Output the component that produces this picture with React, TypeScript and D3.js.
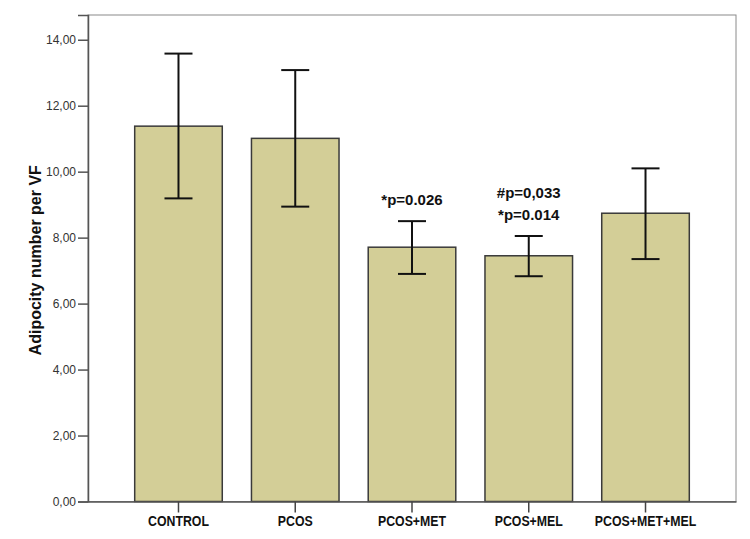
import React, { useEffect, useRef } from 'react';
import * as d3 from 'd3';

// groups and values
const groups = ['CONTROL', 'PCOS', 'PCOS+MET', 'PCOS+MEL', 'PCOS+MET+MEL'];
const means = [11.38, 11.01, 7.71, 7.45, 8.74];
const upper = [13.58, 13.08, 8.5, 8.05, 10.1];
const lower = [9.19, 8.94, 6.9, 6.83, 7.35];
const yTicks = [0, 2, 4, 6, 8, 10, 12, 14];
// significance notes above bars (group, lines)
const notes = [
  { group: 'PCOS+MET', lines: ['*p=0.026'] },
  { group: 'PCOS+MEL', lines: ['#p=0,033', '*p=0.014'] },
];

const W = 750;
const H = 539;

export default function App() {
  const ref = useRef<SVGSVGElement>(null);

  useEffect(() => {
    const svg = d3.select(ref.current);
    svg.selectAll('*').remove();

    const left = 88, right = 736, top = 15, bottom = 501.5;

    const x = d3.scaleBand().domain(groups).range([left, right]).paddingInner(0.25).paddingOuter(0.4);
    const y = d3.scaleLinear().domain([0, 14.75]).range([bottom, top]);

    const font = 'Arial, "Liberation Sans", sans-serif';

    // frame
    svg.append('rect')
      .attr('x', left).attr('y', top)
      .attr('width', right - left).attr('height', bottom - top)
      .attr('fill', 'none').attr('stroke', '#8a8a8a').attr('stroke-width', 1);

    // bars
    svg.append('g').selectAll('rect')
      .data(groups)
      .enter().append('rect')
      .attr('x', d => x(d)!)
      .attr('y', (d, i) => y(means[i]))
      .attr('width', x.bandwidth())
      .attr('height', (d, i) => y(0) - y(means[i]))
      .attr('fill', '#d3ce97')
      .attr('stroke', '#3a3a3a')
      .attr('stroke-width', 1.5);

    // error bars
    const cap = 14;
    const eb = svg.append('g').attr('stroke', '#111').attr('stroke-width', 2);
    groups.forEach((g, i) => {
      const cx = x(g)! + x.bandwidth() / 2;
      eb.append('line').attr('x1', cx).attr('x2', cx).attr('y1', y(upper[i])).attr('y2', y(lower[i]));
      eb.append('line').attr('x1', cx - cap).attr('x2', cx + cap).attr('y1', y(upper[i])).attr('y2', y(upper[i]));
      eb.append('line').attr('x1', cx - cap).attr('x2', cx + cap).attr('y1', y(lower[i])).attr('y2', y(lower[i]));
    });

    // y axis
    const yAxis = svg.append('g')
      .attr('transform', `translate(${left},0)`)
      .call(d3.axisLeft(y).tickValues(yTicks).tickSize(10).tickPadding(2)
        .tickFormat(d => d3.format('.2f')(d as number).replace('.', ',')));
    yAxis.select('.domain').attr('stroke', '#555').attr('stroke-width', 1.5);
    yAxis.selectAll('.tick line').attr('stroke', '#555').attr('stroke-width', 1.5);
    yAxis.selectAll('.tick text').attr('fill', '#333').style('font', `12px ${font}`);

    // x axis
    const xAxis = svg.append('g')
      .attr('transform', `translate(0,${bottom})`)
      .call(d3.axisBottom(x).tickSize(11).tickPadding(4).tickSizeOuter(0));
    xAxis.select('.domain').attr('stroke', '#555').attr('stroke-width', 1.5);
    xAxis.selectAll('.tick line').attr('stroke', '#444').attr('stroke-width', 1.5);
    xAxis.selectAll<SVGTextElement, string>('.tick text')
      .attr('fill', '#111')
      .style('font', `bold 14px ${font}`)
      .each(function () {
        // narrow the labels a little, like the original condensed face
        const len = this.getComputedTextLength();
        d3.select(this).attr('textLength', len * 0.88).attr('lengthAdjust', 'spacingAndGlyphs');
      });

    // y title
    svg.append('text')
      .attr('transform', `translate(41,${(top + bottom) / 2 + 2}) rotate(-90)`)
      .attr('text-anchor', 'middle')
      .style('font', `bold 16px ${font}`)
      .attr('fill', '#111')
      .text('Adipocity number per VF');

    // significance notes
    notes.forEach(n => {
      const i = groups.indexOf(n.group);
      const cx = x(n.group)! + x.bandwidth() / 2;
      const base = y(upper[i]) - 16 - (n.lines.length - 1) * 22;
      n.lines.forEach((t, k) => {
        svg.append('text')
          .attr('x', cx).attr('y', base + k * 22)
          .attr('text-anchor', 'middle')
          .style('font', `bold 15px ${font}`)
          .attr('fill', '#111')
          .text(t);
      });
    });
  }, []);

  return (
    <svg ref={ref} width={W} height={H}
      style={{ position: 'absolute', left: 0, top: 0, background: '#fff' }} />
  );
}
